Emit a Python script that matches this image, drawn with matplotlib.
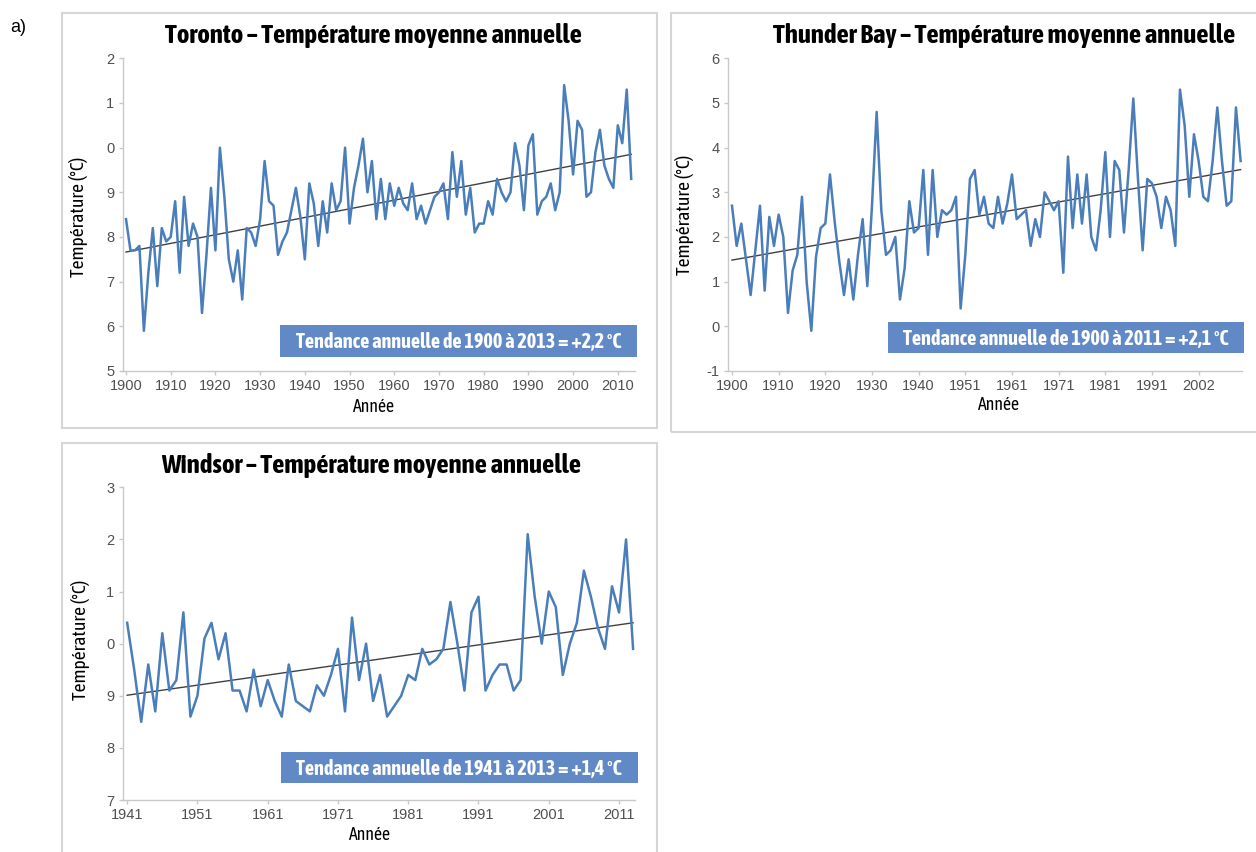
import numpy as np
import matplotlib
matplotlib.use("Agg")
import matplotlib.pyplot as plt
from matplotlib.patches import Rectangle

# ---- data ----
toronto_years = list(range(1900, 2014))
toronto_temp = [8.4, 7.7, 7.7, 7.8, 5.9, 7.2, 8.2, 6.9, 8.2, 7.9,
                8.0, 8.8, 7.2, 8.9, 7.8, 8.3, 8.0, 6.3, 7.6, 9.1,
                7.7, 10.0, 8.9, 7.5, 7.0, 7.7, 6.6, 8.2, 8.1, 7.8,
                8.4, 9.7, 8.8, 8.7, 7.6, 7.9, 8.1, 8.6, 9.1, 8.45,
                7.5, 9.2, 8.75, 7.8, 8.8, 8.1, 9.2, 8.6, 8.8, 10.0,
                8.3, 9.1, 9.6, 10.2, 9.0, 9.7, 8.4, 9.3, 8.4, 9.2,
                8.7, 9.1, 8.75, 8.6, 9.2, 8.4, 8.7, 8.3, 8.6, 8.9,
                9.0, 9.2, 8.4, 9.9, 8.9, 9.7, 8.5, 9.1, 8.1, 8.3,
                8.3, 8.8, 8.5, 9.3, 9.0, 8.8, 9.0, 10.1, 9.6, 8.6,
                10.05, 10.3, 8.5, 8.8, 8.9, 9.2, 8.6, 9.0, 11.4, 10.6,
                9.4, 10.6, 10.4, 8.9, 9.0, 9.9, 10.4, 9.6, 9.3, 9.1,
                10.5, 10.1, 11.3, 9.3]
toronto_yticks = [5, 6, 7, 8, 9, 10, 11, 12]
toronto_ylabels = ["5", "6", "7", "8", "9", "0", "1", "2"]
toronto_xticks = list(range(1900, 2011, 10))

# Thunder Bay: category axis, two years missing in the series
tb_years = list(range(1900, 1947)) + list(range(1948, 1997)) + list(range(1998, 2012))
tb_temp = [2.7, 1.8, 2.3, 1.5, 0.7, 1.7, 2.7, 0.8, 2.45, 1.8,
           2.5, 2.0, 0.3, 1.25, 1.6, 2.9, 1.0, -0.1, 1.55, 2.2,
           2.3, 3.4, 2.35, 1.45, 0.7, 1.5, 0.6, 1.6, 2.4, 0.9,
           2.7, 4.8, 2.6, 1.6, 1.7, 2.0, 0.6, 1.3, 2.8, 2.1,
           2.2, 3.5, 1.6, 3.5, 2.0, 2.6, 2.5, 2.6, 2.9, 0.4,
           1.6, 3.3, 3.5, 2.5, 2.9, 2.3, 2.2, 2.9, 2.3, 2.75,
           3.4, 2.4, 2.5, 2.6, 1.8, 2.4, 2.0, 3.0, 2.8, 2.6,
           2.8, 1.2, 3.8, 2.2, 3.4, 2.3, 3.4, 2.0, 1.7, 2.6,
           3.9, 2.0, 3.7, 3.5, 2.1, 3.5, 5.1, 3.3, 1.7, 3.3,
           3.2, 2.9, 2.2, 2.9, 2.6, 1.8, 5.3, 4.5, 2.9, 4.3,
           3.7, 2.9, 2.8, 3.7, 4.9, 3.7, 2.7, 2.8, 4.9, 3.7]
tb_yticks = [-1, 0, 1, 2, 3, 4, 5, 6]
tb_ylabels = ["-1", "0", "1", "2", "3", "4", "5", "6"]

windsor_years = list(range(1941, 2014))
windsor_temp = [10.4, 9.5, 8.5, 9.6, 8.7, 10.2, 9.1, 9.3, 10.6, 8.6,
                9.0, 10.1, 10.4, 9.7, 10.2, 9.1, 9.1, 8.7, 9.5, 8.8,
                9.3, 8.9, 8.6, 9.6, 8.9, 8.8, 8.7, 9.2, 9.0, 9.4,
                9.9, 8.7, 10.5, 9.3, 10.0, 8.9, 9.4, 8.6, 8.8, 9.0,
                9.4, 9.3, 9.9, 9.6, 9.7, 9.9, 10.8, 10.0, 9.1, 10.6,
                10.9, 9.1, 9.4, 9.6, 9.6, 9.1, 9.3, 12.1, 10.9, 10.0,
                11.0, 10.7, 9.4, 10.0, 10.4, 11.4, 10.9, 10.3, 9.9, 11.1,
                10.6, 12.0, 9.9]
windsor_yticks = [7, 8, 9, 10, 11, 12, 13]
windsor_ylabels = ["7", "8", "9", "0", "1", "2", "3"]
windsor_xticks = list(range(1941, 2012, 10))

titles = ["Toronto – Température moyenne annuelle",
          "Thunder Bay – Température moyenne annuelle",
          "Windsor – Température moyenne annuelle"]
trend_texts = ["Tendance annuelle de 1900 à 2013 = +2,2 °C",
               "Tendance annuelle de 1900 à 2011 = +2,1 °C",
               "Tendance annuelle de 1941 à 2013 = +1,4 °C"]

# ---- layout (pixels) ----
W, H = 1256, 852
COND = ["Asap Condensed", "Archivo Narrow", "DejaVu Sans"]
TICKFONT = ["Liberation Sans", "DejaVu Sans"]
LINE = "#4a7ebb"
BOX = "#6089c6"

fig = plt.figure(figsize=(W / 100, H / 100), dpi=100)
fig.patch.set_facecolor("white")


def px_axes(l, t, r, b):
    return fig.add_axes([l / W, 1 - b / H, (r - l) / W, (b - t) / H])


def px_rect(l, t, r, b, **kw):
    fig.add_artist(Rectangle((l / W, 1 - b / H), (r - l) / W, (b - t) / H,
                             transform=fig.transFigure, **kw))


def px_text(x, y, s, **kw):
    fig.text(x / W, 1 - y / H, s, **kw)


def style(ax):
    for s in ["top", "right"]:
        ax.spines[s].set_visible(False)
    for s in ["left", "bottom"]:
        ax.spines[s].set_color("#c8c8c8")
        ax.spines[s].set_linewidth(1.0)
    ax.tick_params(colors="#c8c8c8", length=3, width=1, direction="out",
                   labelcolor="#505050", labelsize=10.5, pad=3)
    for lab in ax.get_xticklabels() + ax.get_yticklabels():
        lab.set_family(TICKFONT)
    ax.set_facecolor("none")


def trend(ax, x, y):
    k, c = np.polyfit(x, y, 1)
    xs = np.array([x[0], x[-1]])
    ax.plot(xs, k * xs + c, color="#404040", lw=1.0, zorder=3)


# panel frames
px_rect(62, 13, 657, 428, fill=False, edgecolor="#d6d6d6", lw=1.5)
px_rect(671, 13, 1262, 432, fill=False, edgecolor="#d6d6d6", lw=1.5)
px_rect(62, 443, 657, 870, fill=False, edgecolor="#d6d6d6", lw=1.5)

px_text(10, 28, "a)", family=TICKFONT, fontsize=13, va="center", ha="left")

# Toronto
ax1 = px_axes(122.6, 58.3, 634.7, 371)
ax1.plot(toronto_years, toronto_temp, color=LINE, lw=1.8, zorder=4)
trend(ax1, np.array(toronto_years), np.array(toronto_temp))
ax1.set_xlim(1899.24, 2013.78)
ax1.set_ylim(5, 12)
ax1.set_yticks(toronto_yticks, toronto_ylabels)
ax1.set_xticks(toronto_xticks, [str(v) for v in toronto_xticks])
style(ax1)

# Thunder Bay
ax2 = px_axes(728.2, 58.3, 1242.5, 371)
cats = np.arange(len(tb_years))
ax2.plot(cats, tb_temp, color=LINE, lw=1.8, zorder=4)
trend(ax2, cats, np.array(tb_temp))
ax2.set_xlim(-0.81, 109.4)
ax2.set_ylim(-1, 6)
ax2.set_yticks(tb_yticks, tb_ylabels)
ax2.set_xticks(cats[::10], [str(tb_years[i]) for i in cats[::10]])
style(ax2)

# Windsor
ax3 = px_axes(122.6, 487.3, 634.7, 800)
ax3.plot(windsor_years, windsor_temp, color=LINE, lw=1.8, zorder=4)
trend(ax3, np.array(windsor_years), np.array(windsor_temp))
ax3.set_xlim(1940.35, 2013.23)
ax3.set_ylim(7, 13)
ax3.set_yticks(windsor_yticks, windsor_ylabels)
ax3.set_xticks(windsor_xticks, [str(v) for v in windsor_xticks])
style(ax3)

# titles, axis labels
for (cx, cy), t in zip([(373, 36), (1004, 36), (371, 465)], titles):
    px_text(cx, cy, t, family=COND, fontweight="bold", fontsize=19.4,
            ha="center", va="center")
for (cx, cy) in [(374, 407), (999, 405), (370, 835)]:
    px_text(cx, cy, "Année", family=COND, fontsize=12.8, ha="center", va="center")
for (cx, cy) in [(79, 217), (684, 215), (80, 640)]:
    px_text(cx, cy, "Température (°C)", family=COND, fontsize=14,
            rotation=90, ha="center", va="center")

# trend boxes
for (l, t, r, b), s in zip([(279.6, 325, 637, 356.7),
                            (888, 321.7, 1244, 353.3),
                            (280.7, 751.7, 637.7, 783.3)], trend_texts):
    px_rect(l, t, r, b, facecolor=BOX, edgecolor="none", zorder=5)
    px_text((l + r) / 2, (t + b) / 2 + 1, s, family=COND, fontweight="bold",
            fontsize=14.5, color="white", ha="center", va="center", zorder=6)

fig.savefig("out.png", dpi=100)
